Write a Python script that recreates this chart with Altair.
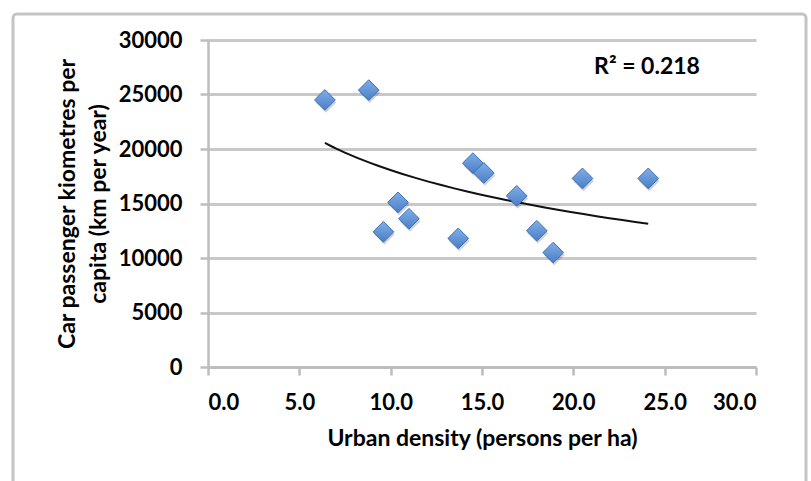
import altair as alt
import pandas as pd

# Data
density = [6.4, 8.8, 9.6, 10.4, 11.0, 13.7, 14.5, 15.1, 16.9, 18.0, 18.9, 20.5, 24.1]
car_km = [24500, 25400, 12400, 15100, 13600, 11800, 18700, 17800, 15700, 12500, 10500, 17300, 17300]
r2_label = ["R\u00b2 = 0.218"]
x_title = "Urban density (persons per ha)"
y_title = ["Car passenger kiometres per", "capita (km per year)"]
x_ticks = [0, 5, 10, 15, 20, 25, 30]
y_ticks = [0, 5000, 10000, 15000, 20000, 25000, 30000]

df = pd.DataFrame({"density": density, "car_km": car_km})

FONT = "Lato"
LEFT, TOP = 208, 40
W, H = 548, 327
PAD = {"left": LEFT, "top": TOP, "right": 811 - LEFT - W, "bottom": 481 - TOP - H}

xs = alt.Scale(domain=[0, 30], nice=False)
ys = alt.Scale(domain=[0, 30000], nice=False)

x_enc = alt.X(
    "density:Q", scale=xs,
    axis=alt.Axis(title=x_title, values=x_ticks, format=".1f",
                  grid=False, domainColor="#bdbdbd", domainWidth=2.5,
                  tickColor="#bdbdbd", tickWidth=2.5, tickSize=8,
                  labelPadding=17, titlePadding=14),
)
y_enc = alt.Y(
    "car_km:Q", scale=ys,
    axis=alt.Axis(title=y_title, values=y_ticks, format="d",
                  grid=True, gridColor="#c8c8c8", gridWidth=3,
                  domainColor="#bdbdbd", domainWidth=2.5,
                  tickColor="#bdbdbd", tickWidth=2.5, tickSize=8,
                  labelPadding=18, titlePadding=8, titleLimit=600),
)

base = alt.Chart(df)

frame = alt.Chart(alt.Data(values=[{"a": 1}])).mark_rect(
    fill=None, stroke="#c4c4c4", strokeWidth=3, cornerRadius=4
).encode(
    x=alt.value(13 - LEFT), x2=alt.value(806 - LEFT),
    y=alt.value(14 - TOP), y2=alt.value(520 - TOP),
)

shadow = base.mark_point(
    shape="diamond", size=430, filled=True, color="#000000", opacity=0.18,
    xOffset=1, yOffset=2.5,
).encode(x=x_enc, y=y_enc)

points = base.mark_point(
    shape="diamond", size=430, filled=True, opacity=1,
    fill={"gradient": "linear", "x1": 0, "y1": 0, "x2": 0, "y2": 1,
          "stops": [{"offset": 0, "color": "#80aee8"}, {"offset": 1, "color": "#4a7ec6"}]},
    stroke="#3f70b5", strokeWidth=1,
).encode(x=x_enc, y=y_enc)

trend = base.transform_regression(
    "density", "car_km", method="log"
).mark_line(color="#111111", strokeWidth=2).encode(
    x=alt.X("density:Q", scale=xs), y=alt.Y("car_km:Q", scale=ys)
)

r2 = alt.Chart(alt.Data(values=[{"t": r2_label[0]}])).mark_text(
    font=FONT, fontSize=23, fontWeight="bold", color="#000000", align="center", baseline="middle"
).encode(x=alt.value(647 - LEFT), y=alt.value(67 - TOP), text="t:N")

chart = alt.layer(frame, trend, shadow, points, r2).properties(
    width=W, height=H, padding=PAD, autosize="none", background="white"
).configure_view(stroke=None).configure_axis(
    labelFont=FONT, titleFont=FONT, labelFontSize=22, titleFontSize=23,
    labelFontWeight="bold", titleFontWeight="bold", labelColor="#000000", titleColor="#000000",
    titleLineHeight=31,
)

chart.save("out.html", embed_options={"renderer": "svg", "actions": False})
